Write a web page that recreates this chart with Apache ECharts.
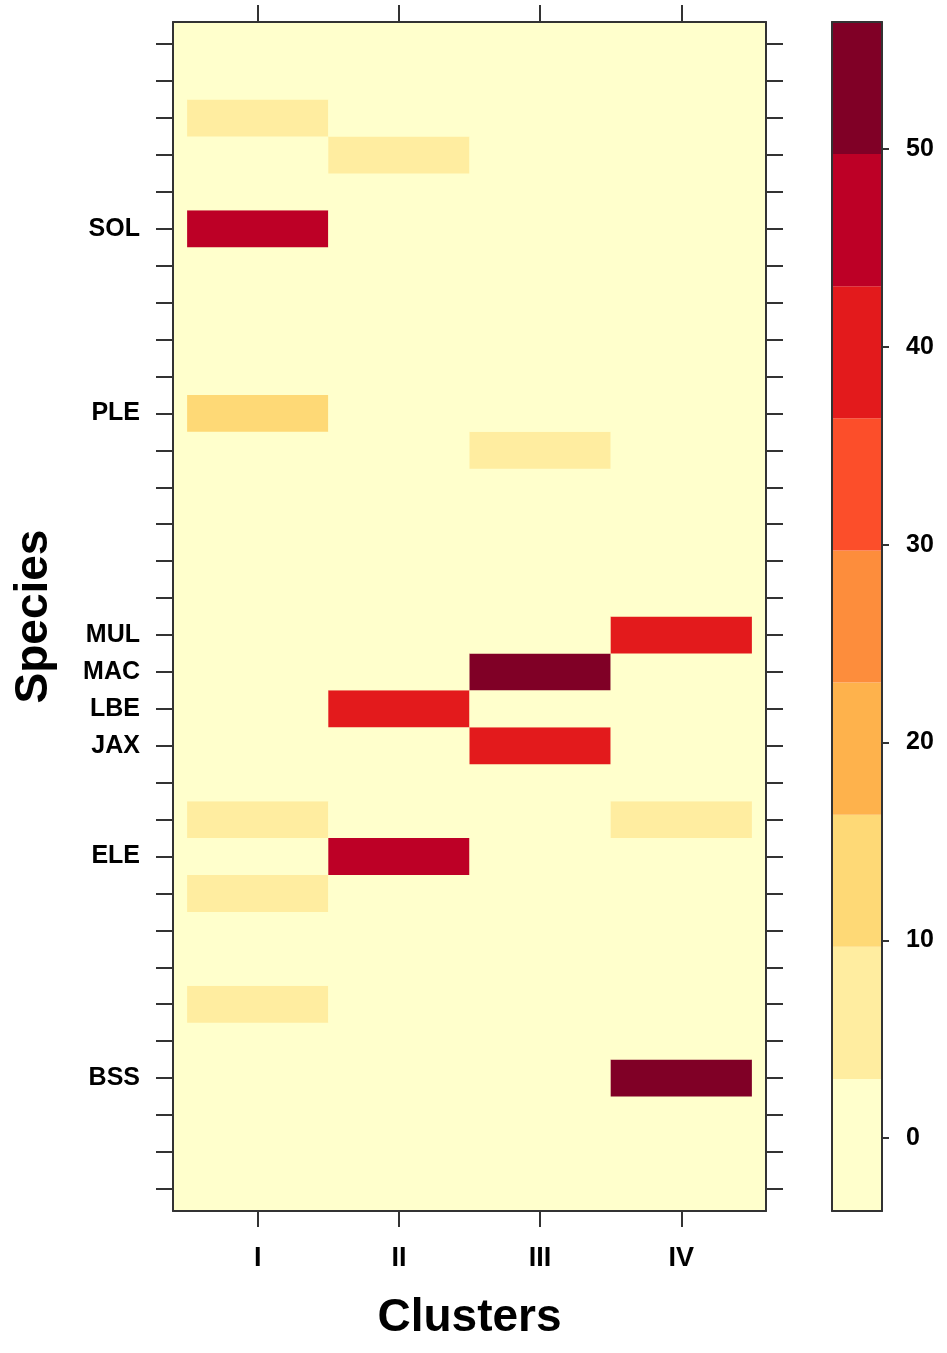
<!DOCTYPE html>
<html>
<head>
<meta charset="utf-8">
<script src="https://cdn.jsdelivr.net/npm/echarts@6/dist/echarts.min.js"></script>
<style>
html,body{margin:0;padding:0;background:#fff;}
#chart{width:947px;height:1353px;}
</style>
</head>
<body>
<div id="chart"></div>
<script>
// Columns (clusters) and rows (species, bottom to top; blank rows are unlabeled)
const clusters = ['I', 'II', 'III', 'IV'];
const species = ['', '', '', 'BSS', '', '', '', '', '', 'ELE', '', '', 'JAX', 'LBE', 'MAC', 'MUL',
                 '', '', '', '', '', 'PLE', '', '', '', '', 'SOL', '', '', '', '', ''];

// Cell values per cluster, bottom row to top row
const valuesI   = [0,0,0,0,0,5,0,0,5,0,5,0,0,0,0,0,0,0,0,0,0,13,0,0,0,0,46,0,0,5,0,0];
const valuesII  = [0,0,0,0,0,0,0,0,0,46,0,0,0,40,0,0,0,0,0,0,0,0,0,0,0,0,0,0,5,0,0,0];
const valuesIII = [0,0,0,0,0,0,0,0,0,0,0,0,40,0,52.7,0,0,0,0,0,5,0,0,0,0,0,0,0,0,0,0,0];
const valuesIV  = [0,0,0,52,0,0,0,0,0,0,5,0,0,0,0,40,0,0,0,0,0,0,0,0,0,0,0,0,0,0,0,0];

// Colour key
const breaks = [-3.69, 2.99, 9.67, 16.35, 23.03, 29.71, 36.39, 43.07, 49.75, 56.43];
const palette = ['#FFFFCC','#FFEDA0','#FED976','#FEB24C','#FD8D3C','#FC4E2A','#E31A1C','#BD0026','#800026'];
const keyTicks = [0, 10, 20, 30, 40, 50];

const FONT = "'Liberation Sans', Arial, sans-serif";
const AX = '#333333';

function colorFor(v) {
  for (let i = 0; i < palette.length; i++) {
    if (v >= breaks[i] && v < breaks[i + 1]) return palette[i];
  }
  return palette[palette.length - 1];
}

const allValues = [valuesI, valuesII, valuesIII, valuesIV];
const cellData = [];
allValues.forEach((col, c) => {
  col.forEach((v, r) => cellData.push([c + 1, r + 1, v]));
});
const keyData = [];
for (let i = 0; i < palette.length; i++) keyData.push([breaks[i], breaks[i + 1], i]);

const colTicks = clusters.map((_, i) => i + 1);
const rowTicks = species.map((_, i) => i + 1);

const chart = echarts.init(document.getElementById('chart'), null, {renderer: 'canvas'});

const lineStyle = {color: AX, width: 2};
const tickStyle = {color: AX, width: 2};

chart.setOption({
  animation: false,
  backgroundColor: '#ffffff',
  grid: [
    {left: 173, top: 22, width: 593, height: 1189, show: true, backgroundColor: '#FFFFCC', borderWidth: 0},
    {left: 832, top: 22, width: 50, height: 1189, show: false}
  ],
  xAxis: [
    {
      gridIndex: 0, type: 'value', position: 'bottom', min: 0.4, max: 4.6, z: 10,
      name: 'Clusters', nameLocation: 'middle', nameGap: 84,
      nameTextStyle: {fontSize: 46, fontWeight: 'bold', color: '#000', fontFamily: FONT},
      axisLine: {show: true, lineStyle: lineStyle},
      axisTick: {show: true, inside: false, length: 16, lineStyle: tickStyle, customValues: colTicks},
      axisLabel: {show: true, margin: 34, fontSize: 27, fontWeight: 'bold', color: '#000', fontFamily: FONT,
                  customValues: colTicks, formatter: v => clusters[Math.round(v) - 1] || ''},
      splitLine: {show: false}
    },
    {
      gridIndex: 0, type: 'value', position: 'top', min: 0.4, max: 4.6, z: 10,
      axisLine: {show: true, lineStyle: lineStyle},
      axisTick: {show: true, inside: false, length: 17, lineStyle: tickStyle, customValues: colTicks},
      axisLabel: {show: false},
      splitLine: {show: false}
    },
    {
      gridIndex: 1, type: 'value', position: 'bottom', min: 0, max: 1, z: 10,
      axisLine: {show: true, onZero: false, lineStyle: lineStyle},
      axisTick: {show: false}, axisLabel: {show: false}, splitLine: {show: false}
    },
    {
      gridIndex: 1, type: 'value', position: 'top', min: 0, max: 1, z: 10,
      axisLine: {show: true, onZero: false, lineStyle: lineStyle},
      axisTick: {show: false}, axisLabel: {show: false}, splitLine: {show: false}
    }
  ],
  yAxis: [
    {
      gridIndex: 0, type: 'value', position: 'left', min: 0.4, max: 32.6, z: 10,
      name: 'Species', nameLocation: 'middle', nameGap: 116,
      nameTextStyle: {fontSize: 46, fontWeight: 'bold', color: '#000', fontFamily: FONT},
      axisLine: {show: true, lineStyle: lineStyle},
      axisTick: {show: true, inside: false, length: 17, lineStyle: tickStyle, customValues: rowTicks},
      axisLabel: {show: true, margin: 33, fontSize: 25, fontWeight: 'bold', color: '#000', fontFamily: FONT,
                  customValues: rowTicks, formatter: v => species[Math.round(v) - 1] || ''},
      splitLine: {show: false}
    },
    {
      gridIndex: 0, type: 'value', position: 'right', min: 0.4, max: 32.6, z: 10,
      axisLine: {show: true, lineStyle: lineStyle},
      axisTick: {show: true, inside: false, length: 17, lineStyle: tickStyle, customValues: rowTicks},
      axisLabel: {show: false},
      splitLine: {show: false}
    },
    {
      gridIndex: 1, type: 'value', position: 'left', min: breaks[0], max: breaks[breaks.length - 1], z: 10,
      axisLine: {show: true, onZero: false, lineStyle: lineStyle},
      axisTick: {show: false}, axisLabel: {show: false}, splitLine: {show: false}
    },
    {
      gridIndex: 1, type: 'value', position: 'right', min: breaks[0], max: breaks[breaks.length - 1], z: 10,
      axisLine: {show: true, onZero: false, lineStyle: lineStyle},
      axisTick: {show: true, inside: false, length: 7, lineStyle: tickStyle, customValues: keyTicks},
      axisLabel: {show: true, margin: 24, fontSize: 25, fontWeight: 'bold', color: '#000', fontFamily: FONT,
                  customValues: keyTicks},
      splitLine: {show: false}
    }
  ],
  series: [
    {
      type: 'custom', xAxisIndex: 0, yAxisIndex: 0, z: 2,
      data: cellData,
      renderItem: function (params, api) {
        const x = api.value(0), y = api.value(1), v = api.value(2);
        const p0 = api.coord([x - 0.5, y + 0.5]);
        const p1 = api.coord([x + 0.5, y - 0.5]);
        return {
          type: 'rect',
          shape: {x: p0[0], y: p0[1], width: p1[0] - p0[0], height: p1[1] - p0[1]},
          style: {fill: colorFor(v), stroke: null}
        };
      }
    },
    {
      type: 'custom', xAxisIndex: 2, yAxisIndex: 2, z: 2,
      data: keyData,
      renderItem: function (params, api) {
        const lo = api.value(0), hi = api.value(1), i = api.value(2);
        const p0 = api.coord([0, hi]);
        const p1 = api.coord([1, lo]);
        return {
          type: 'rect',
          shape: {x: p0[0], y: p0[1], width: p1[0] - p0[0], height: p1[1] - p0[1]},
          style: {fill: palette[i], stroke: null}
        };
      }
    }
  ]
});
</script>
</body>
</html>
